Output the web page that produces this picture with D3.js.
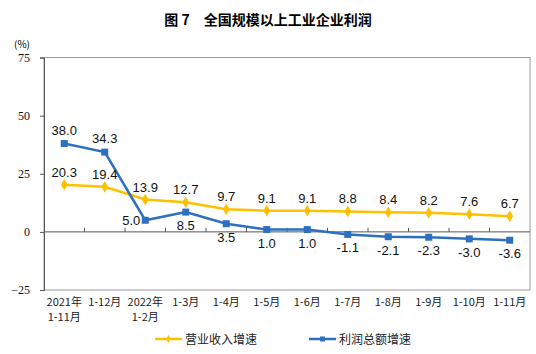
<!DOCTYPE html>
<html>
<head>
<meta charset="utf-8">
<script src="https://cdn.jsdelivr.net/npm/d3@7"></script>
<style>
  body { margin: 0; background: #fff; }
  .title { font: bold 14px "Noto Sans CJK SC", sans-serif; }
  .xcat { font: 11px "Noto Sans CJK SC", sans-serif; fill: #222; }
  .val { font: 13px "Liberation Sans", Arial, sans-serif; fill: #111; }
  .legend { font: 12px "Noto Sans CJK SC", sans-serif; fill: #222; }
</style>
</head>
<body>
<div id="chart"></div>
<script>
  const categories = [
    ["2021年", "1-11月"], ["1-12月"], ["2022年", "1-2月"], ["1-3月"], ["1-4月"], ["1-5月"],
    ["1-6月"], ["1-7月"], ["1-8月"], ["1-9月"], ["1-10月"], ["1-11月"]
  ];
  const revenueGrowth = [20.3, 19.4, 13.9, 12.7, 9.7, 9.1, 9.1, 8.8, 8.4, 8.2, 7.6, 6.7];
  const profitGrowth = [38.0, 34.3, 5.0, 8.5, 3.5, 1.0, 1.0, -1.1, -2.1, -2.3, -3.0, -3.6];
  const yTicks = [75, 50, 25, 0, -25];
  const seriesNames = ["营业收入增速", "利润总额增速"];

(function () {
  const width = 536, height = 354;
  const plotLeft = 44, plotRight = 530, plotTop = 57.5, plotBottom = 290;

  const svg = d3.select("#chart").append("svg")
    .attr("width", width)
    .attr("height", height);

  svg.append("text")
    .attr("class", "title")
    .attr("x", 268)
    .attr("y", 25)
    .attr("text-anchor", "middle")
    .text("图 7　全国规模以上工业企业利润");

  const x = d3.scaleBand()
    .domain(d3.range(categories.length))
    .range([plotLeft, plotRight]);

  const y = d3.scaleLinear()
    .domain([-25, 75])
    .range([plotBottom, plotTop]);

  // frame
  svg.append("rect")
    .attr("x", plotLeft).attr("y", plotTop)
    .attr("width", plotRight - plotLeft).attr("height", plotBottom - plotTop)
    .attr("fill", "none")
    .attr("stroke", "#999")
    .attr("stroke-width", 1);

  // y axis
  const yAxis = svg.append("g")
    .attr("transform", "translate(" + plotLeft + ",0)")
    .call(d3.axisLeft(y).tickValues(yTicks).tickSize(4).tickPadding(10));
  yAxis.select(".domain").attr("stroke", "#555");
  yAxis.selectAll(".tick line").attr("stroke", "#555");
  yAxis.selectAll("text").attr("fill", "#111")
    .style("font", "12px 'Liberation Serif', serif");

  svg.append("text")
    .attr("x", 22).attr("y", 48)
    .attr("text-anchor", "middle")
    .style("font", "10px 'Noto Sans CJK SC', sans-serif")
    .text("(%)");

  // zero line with upward ticks at category boundaries
  svg.append("line")
    .attr("x1", plotLeft).attr("x2", plotRight)
    .attr("y1", y(0)).attr("y2", y(0))
    .attr("stroke", "#555");
  svg.selectAll(".ctick")
    .data(d3.range(1, categories.length))
    .join("line")
    .attr("x1", d => x(d)).attr("x2", d => x(d))
    .attr("y1", y(0)).attr("y2", y(0) - 4)
    .attr("stroke", "#555");

  // category labels
  const cat = svg.selectAll(".xcat")
    .data(categories)
    .join("text")
    .attr("class", "xcat")
    .attr("text-anchor", "middle")
    .attr("x", (d, i) => x(i) + x.bandwidth() / 2)
    .attr("y", plotBottom + 16);
  cat.selectAll("tspan")
    .data(d => d)
    .join("tspan")
    .attr("x", function () { return this.parentNode.getAttribute("x"); })
    .attr("dy", (d, i) => i === 0 ? 0 : 15)
    .text(d => d);

  const cx = i => x(i) + x.bandwidth() / 2;
  const line = d3.line().x((d, i) => cx(i)).y(d => y(d));

  const yellow = "#FFC000", blue = "#2E70C0";

  svg.append("path")
    .attr("d", line(revenueGrowth))
    .attr("fill", "none").attr("stroke", yellow).attr("stroke-width", 2.5);
  svg.append("path")
    .attr("d", line(profitGrowth))
    .attr("fill", "none").attr("stroke", blue).attr("stroke-width", 2.5);

  svg.selectAll(".dia")
    .data(revenueGrowth)
    .join("path")
    .attr("class", "dia")
    .attr("d", d3.symbol(d3.symbolDiamond, 40))
    .attr("transform", (d, i) => "translate(" + cx(i) + "," + y(d) + ")")
    .attr("fill", yellow);
  svg.selectAll(".sq")
    .data(profitGrowth)
    .join("rect")
    .attr("class", "sq")
    .attr("x", (d, i) => cx(i) - 3.5)
    .attr("y", d => y(d) - 3.5)
    .attr("width", 7).attr("height", 7)
    .attr("fill", blue);

  // value labels
  svg.selectAll(".rv")
    .data(revenueGrowth)
    .join("text")
    .attr("class", "val rv")
    .attr("text-anchor", "middle")
    .attr("x", (d, i) => cx(i))
    .attr("y", d => y(d) - 8)
    .text(d => d.toFixed(1));

  svg.selectAll(".pv")
    .data(profitGrowth)
    .join("text")
    .attr("class", "val pv")
    .attr("text-anchor", (d, i) => i === 2 ? "end" : "middle")
    .attr("x", (d, i) => i === 2 ? cx(i) - 5 : cx(i))
    .attr("y", (d, i) => i < 2 ? y(d) - 9 : (i === 2 ? y(d) + 5 : y(d) + 18))
    .text(d => d.toFixed(1));

  // legend
  [[yellow, 155, "diamond"], [blue, 309, "square"]].forEach(function (s, k) {
    const g = svg.append("g").attr("transform", "translate(" + s[1] + ",339)");
    g.append("line").attr("x1", 0).attr("x2", 27).attr("stroke", s[0]).attr("stroke-width", 2.5);
    if (s[2] === "diamond") {
      g.append("path").attr("d", d3.symbol(d3.symbolDiamond, 18)).attr("transform", "translate(13.5,0)").attr("fill", s[0]);
    } else {
      g.append("rect").attr("x", 11).attr("y", -2.5).attr("width", 5).attr("height", 5).attr("fill", s[0]);
    }
    g.append("text").attr("class", "legend").attr("x", 30).attr("y", 5).text(seriesNames[k]);
  });
})();
</script>
</body>
</html>
